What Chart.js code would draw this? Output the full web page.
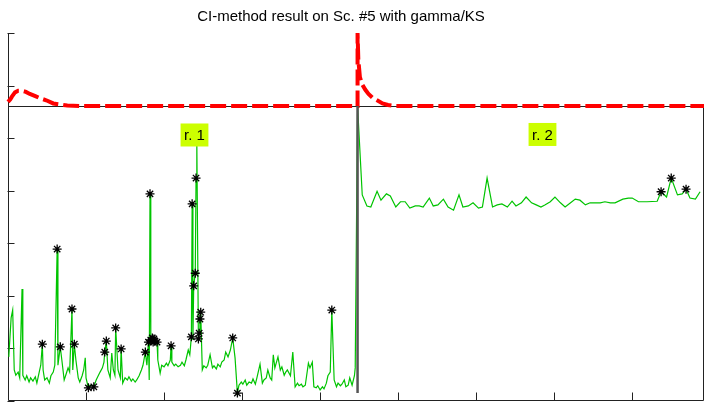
<!DOCTYPE html>
<html>
<head>
<meta charset="utf-8">
<script src="https://cdn.jsdelivr.net/npm/chart.js@4.4.0/dist/chart.umd.min.js"></script>
<style>
  html, body { margin: 0; padding: 0; background: #fff; overflow: hidden; }
  #wrap { width: 705px; height: 403px; }
</style>
</head>
<body>
<div id="wrap"><canvas id="myChart" width="705" height="403"></canvas></div>
<script>
// region 1 statistic (sample index, value)
const r1X = [1, 4, 6, 8, 10, 13, 15, 18, 19, 22, 24, 27, 29, 32, 35, 37, 40, 42, 44, 45, 47, 50, 53, 55, 58, 60, 63, 64, 67, 69,
  72, 74, 77, 79, 82, 83, 85, 87, 90, 92, 95, 97, 99, 100, 103, 105, 108, 110, 113, 115, 118, 121, 123, 124, 126, 128, 131, 133, 135, 137,
  138, 141, 144, 145, 147, 150, 153, 155, 158, 160, 163, 165, 168, 171, 173, 176, 178, 180, 181, 182, 183, 185, 186, 187, 188, 191, 192, 195, 197, 200,
  203, 205, 208, 209, 210, 213, 215, 218, 221, 223, 226, 228, 231, 233, 235, 236, 237, 238, 240, 241, 242, 244, 245, 246, 247, 249, 251, 254, 256, 259,
  262, 264, 267, 269, 272, 274, 277, 279, 282, 285, 288, 291, 294, 296, 299, 301, 304, 306, 309, 312, 314, 317, 319, 323, 326, 328, 331, 333, 336, 338,
  340, 342, 346, 349, 351, 354, 356, 358, 362, 365, 368, 371, 373, 376, 378, 381, 385, 387, 390, 392, 395, 397, 400, 403, 405, 408, 410, 413, 415, 418,
  421, 423, 426, 428, 431, 433, 436, 438, 441, 444, 445, 448]
const r1Y = [8.4, 15.8, 17.3, 5.9, 4.9, 5.5, 4.4, 21.3, 4.9, 4.0, 4.8, 3.6, 4.4, 3.8, 4.6, 3.4, 5.5, 6.8, 10.8, 5.9, 4.0, 4.4, 3.4, 4.8, 5.5, 6.8, 28.9, 6.8, 10.3, 7.8,
  4.0, 4.9, 6.3, 5.5, 17.5, 5.9, 10.8, 7.8, 4.4, 3.6, 4.8, 5.9, 8.2, 4.4, 2.5, 3.0, 2.9, 2.7, 4.0, 4.6, 5.5, 6.3, 7.4, 9.3, 11.4, 5.9, 4.4, 9.1, 5.9, 4.9,
  13.9, 5.9, 4.4, 9.9, 3.4, 4.4, 4.0, 4.6, 3.8, 4.2, 3.6, 4.0, 4.8, 5.9, 6.8, 9.3, 6.8, 11.2, 4.0, 39.4, 11.6, 12.0, 11.2, 11.8, 11.4, 11.2, 7.8, 5.3, 6.8, 6.5,
  7.2, 6.7, 7.8, 10.5, 7.4, 6.7, 7.0, 6.5, 6.8, 7.4, 6.7, 7.8, 9.7, 8.8, 12.2, 37.5, 11.6, 21.9, 24.3, 42.4, 49.1, 11.8, 12.9, 15.6, 16.9, 5.9, 6.7, 6.3, 6.8, 8.8,
  6.3, 6.7, 6.1, 7.0, 6.5, 7.4, 7.8, 9.3, 8.4, 9.7, 12.0, 8.2, 1.5, 3.0, 3.6, 3.2, 4.0, 3.0, 3.6, 3.4, 4.2, 3.2, 4.4, 7.0, 3.4, 4.0, 4.4, 5.9, 4.4, 4.0,
  8.8, 6.3, 8.4, 5.9, 6.5, 4.9, 5.5, 5.9, 4.8, 9.3, 2.7, 3.4, 2.9, 3.2, 2.7, 3.0, 7.2, 6.3, 7.4, 2.7, 2.5, 2.9, 2.1, 2.7, 2.3, 3.4, 4.8, 5.5, 17.3, 4.0,
  2.7, 3.4, 2.9, 3.2, 4.0, 2.7, 3.0, 4.4, 3.0, 4.8, 6.3, 56.1]

// region 2 statistic
const r2X = [454, 460, 465, 473, 478, 485, 490, 497, 503, 509, 515, 522, 527, 532, 540, 545, 551, 558, 564, 571, 578, 583, 590, 596, 603, 608, 614, 621, 627, 633,
  640, 646, 651, 658, 664, 671, 677, 683, 688, 695, 701, 708, 714, 721, 727, 733, 740, 746, 753, 759, 765, 772, 778, 788, 795, 800, 808, 819, 832, 837,
  844, 850, 858, 864, 869, 874, 881, 887]
const r2Y = [39.2, 37.1, 36.9, 39.9, 38.2, 39.4, 39.0, 36.9, 37.9, 37.9, 36.7, 37.1, 37.1, 36.9, 38.6, 37.1, 37.3, 38.4, 36.9, 36.3, 39.2, 36.9, 37.1, 37.7, 36.7, 36.9, 42.4, 36.9, 37.3, 37.5,
  36.9, 38.0, 37.1, 37.7, 38.8, 37.7, 37.3, 36.9, 37.3, 37.9, 38.8, 37.7, 36.9, 37.7, 38.4, 38.2, 37.3, 37.7, 37.7, 37.7, 37.9, 37.7, 37.7, 38.4, 38.6, 38.6, 37.9, 37.9, 38.0, 39.8,
  38.8, 42.4, 39.2, 39.4, 40.3, 38.6, 38.4, 39.8]

// detected change points (stars)
const starX = [44, 63, 67, 82, 85, 103, 110, 124, 126, 138, 145, 176, 180, 182, 183, 185, 186, 187, 188, 191, 209, 235, 236, 238, 240, 241, 244, 245, 246, 247,
  288, 294, 415, 837, 850, 869]
const starY = [10.8, 28.9, 10.3, 17.5, 10.8, 2.5, 2.7, 9.3, 11.4, 13.9, 9.9, 9.3, 11.2, 39.4, 11.6, 12.0, 11.2, 11.8, 11.4, 11.2, 10.5, 12.2, 37.5, 21.9, 24.3, 42.4, 11.8, 12.9, 15.6, 16.9,
  12.0, 1.5, 17.3, 39.8, 42.4, 40.3]

// gamma fit curve (red dashed)
const fitX = [0, 3, 5, 9, 13, 18, 23, 28, 35, 41, 49, 58, 67, 76, 92, 448, 448, 449, 451, 454, 458, 462, 467, 473, 480, 487, 497, 892]
const fitY = [56.9, 57.4, 57.9, 58.7, 59.0, 59.0, 58.8, 58.4, 58.0, 57.6, 57.2, 56.6, 56.4, 56.2, 56.1, 56.1, 70, 64.9, 61.6, 60.2, 59.2, 58.4, 57.7, 57.2, 56.6, 56.3, 56.1, 56.1]

const yTicks = [0, 10, 20, 30, 40, 50, 60, 70]
const xTicks = [100, 200, 300, 400, 500, 600, 700, 800]
const baseLevel = 56.1
const boundaryX = 448
const regionLabels = ['r. 1', 'r. 2']
const labelX = [239, 685]
const labelY = [50.6, 50.7]

const toPts = (xs, ys) => xs.map((x, i) => ({ x: x, y: ys[i] }))

const axesPlugin = {
  id: 'axesPlugin',
  beforeDatasetsDraw(chart) {
    const { ctx, scales: { x, y } } = chart
    const x0 = x.getPixelForValue(0) + 0.5
    const x1 = x.getPixelForValue(892) - 0.5
    const yb = y.getPixelForValue(0) - 0.5
    const yt = y.getPixelForValue(70)
    const ybase = Math.round(y.getPixelForValue(baseLevel)) + 0.5
    ctx.save()
    ctx.strokeStyle = '#222'
    ctx.lineWidth = 1
    ctx.beginPath()
    ctx.moveTo(x0, yt); ctx.lineTo(x0, yb)
    ctx.moveTo(x0, yb); ctx.lineTo(x1, yb)
    ctx.moveTo(x0, ybase); ctx.lineTo(x1, ybase)
    ctx.moveTo(x1, ybase); ctx.lineTo(x1, yb)
    yTicks.forEach(v => {
      const p = Math.round(y.getPixelForValue(v)) + 0.5
      ctx.moveTo(x0 - 1, p); ctx.lineTo(x0 + 6, p)
    })
    xTicks.forEach(v => {
      const p = Math.round(x.getPixelForValue(v)) + 0.5
      ctx.moveTo(p, yb); ctx.lineTo(p, yb - 8)
    })
    ctx.stroke()
    ctx.restore()
  },
  afterDatasetsDraw(chart) {
    const { ctx, scales: { x, y } } = chart
    ctx.save()
    // region boundary
    const bx = x.getPixelForValue(boundaryX)
    ctx.strokeStyle = '#555'
    ctx.lineWidth = 2.5
    ctx.beginPath()
    ctx.moveTo(bx, y.getPixelForValue(baseLevel))
    ctx.lineTo(bx, y.getPixelForValue(1.5))
    ctx.stroke()
    // region labels
    ctx.font = '15px "Liberation Sans", Arial, sans-serif'
    ctx.textAlign = 'center'
    ctx.textBaseline = 'middle'
    regionLabels.forEach((t, i) => {
      const cx = x.getPixelForValue(labelX[i])
      const cy = y.getPixelForValue(labelY[i])
      const w = ctx.measureText(t).width + 7
      ctx.fillStyle = '#ccff00'
      ctx.fillRect(cx - w / 2, cy - 11.5, w, 23)
      ctx.fillStyle = '#000'
      ctx.fillText(t, cx, cy + 1)
    })
    // title
    ctx.fillStyle = '#000'
    ctx.textBaseline = 'alphabetic'
    ctx.fillText('CI-method result on Sc. #5 with gamma/KS', 341, 20.5)
    ctx.restore()
  }
}

new Chart(document.getElementById('myChart'), {
  type: 'line',
  data: {
    datasets: [
      {
        label: 'fit',
        data: toPts(fitX, fitY),
        borderColor: '#ff0000',
        borderWidth: 4,
        borderDash: [16, 5],
        pointRadius: 0,
        tension: 0,
        clip: 6,
        order: 0
      },
      {
        label: 'stars',
        data: toPts(starX, starY),
        showLine: false,
        pointStyle: 'star',
        pointRadius: 4.5,
        pointBorderColor: '#000',
        pointBorderWidth: 1.3,
        clip: 6,
        order: 1
      },
      {
        label: 'stat',
        data: toPts(r1X.concat(r2X), r1Y.concat(r2Y)),
        borderColor: '#00c400',
        borderWidth: 1.2,
        pointRadius: 0,
        tension: 0,
        order: 2
      }
    ]
  },
  options: {
    responsive: false,
    animation: false,
    devicePixelRatio: 1,
    layout: { autoPadding: false, padding: { left: 8, right: 1, top: 33, bottom: 2 } },
    plugins: { legend: { display: false }, title: { display: false }, tooltip: { enabled: false } },
    scales: {
      x: { type: 'linear', min: 0, max: 892, display: false },
      y: { type: 'linear', min: 0, max: 70, display: false }
    }
  },
  plugins: [axesPlugin]
})
</script>
</body>
</html>
